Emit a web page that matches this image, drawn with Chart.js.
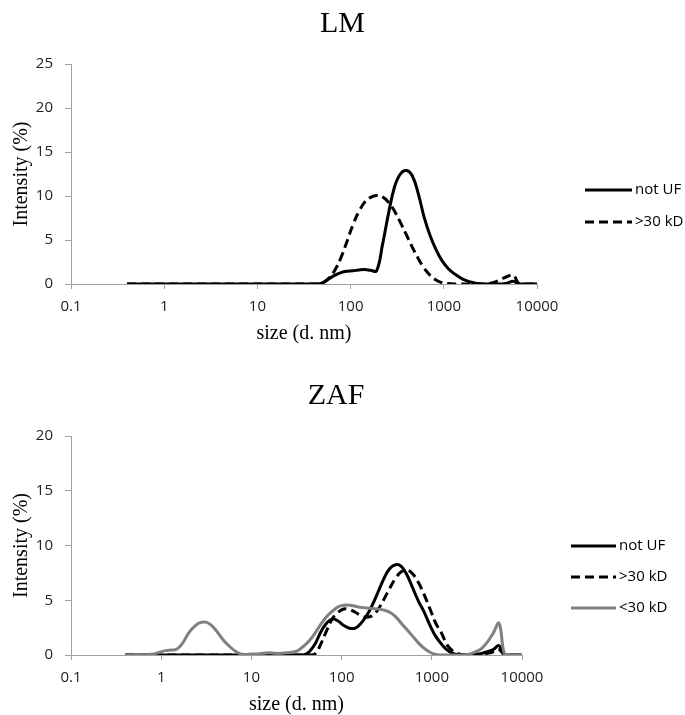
<!DOCTYPE html>
<html>
<head>
<meta charset="utf-8">
<script src="https://cdn.jsdelivr.net/npm/chart.js@4.4.0/dist/chart.umd.min.js"></script>
<style>
  html, body { margin: 0; padding: 0; background: #fff; width: 685px; height: 715px; overflow: hidden; }
  canvas { position: absolute; left: 0; }
  #lmChart { top: 0; }
  #zafChart { top: 372px; }
</style>
</head>
<body>
<canvas id="lmChart" width="685" height="360"></canvas>
<canvas id="zafChart" width="685" height="348"></canvas>
<script>
// size classes (d. nm)
const sizes = [0.4, 0.4632, 0.5365, 0.6213, 0.7195, 0.8332, 0.9649, 1.117, 1.294, 1.499,
  1.736, 2.01, 2.328, 2.696, 3.122, 3.615, 4.187, 4.849, 5.615, 6.503,
  7.531, 8.721, 10.1, 11.7, 13.54, 15.69, 18.17, 21.04, 24.36, 28.21,
  32.67, 37.84, 43.82, 50.75, 58.77, 68.06, 78.82, 91.28, 105.7, 122.4,
  141.8, 164.2, 190.1, 220.2, 255, 295.3, 342, 396.1, 458.7, 531.2,
  615.1, 712.4, 825, 955.4, 1106, 1281, 1484, 1718, 1990, 2305,
  2669, 3091, 3580, 4145, 4801, 5560, 6439, 7456, 8635, 10000];

const xTickValues = [0.1, 1, 10, 100, 1000, 10000];
const lmYTicks = [0, 5, 10, 15, 20, 25];
const zafYTicks = [0, 5, 10, 15, 20];

// LM
const lmNotUF = [0, 0, 0, 0, 0, 0, 0, 0, 0, 0,
  0, 0, 0, 0, 0, 0, 0, 0, 0, 0,
  0, 0, 0, 0, 0, 0, 0, 0, 0, 0,
  0, 0, 0, 0.15, 0.6, 1.0, 1.3, 1.45, 1.5, 1.6,
  1.65, 1.55, 1.5, 4.5, 8.0, 11.0, 12.5, 12.9, 12.3, 10.3,
  7.6, 5.5, 3.9, 2.65, 1.8, 1.2, 0.75, 0.4, 0.2, 0.05,
  0, 0, 0, 0, 0.1, 0.3, 0, 0, 0, 0];
const lmOver30 = [0, 0, 0, 0, 0, 0, 0, 0, 0, 0,
  0, 0, 0, 0, 0, 0, 0, 0, 0, 0,
  0, 0, 0, 0, 0, 0, 0, 0, 0, 0,
  0, 0, 0, 0.15, 0.7, 1.6, 3.0, 4.8, 6.7, 8.2,
  9.3, 9.85, 10.05, 9.9, 9.3, 8.3, 7.0, 5.6, 4.2, 2.9,
  1.8, 1.0, 0.45, 0.15, 0.05, 0, 0, 0, 0, 0,
  0, 0.05, 0.25, 0.55, 0.85, 1.0, 0, 0, 0, 0];

// ZAF
const zafNotUF = [0, 0, 0, 0, 0, 0, 0, 0, 0, 0,
  0, 0, 0, 0, 0, 0, 0, 0, 0, 0,
  0, 0, 0, 0, 0, 0, 0, 0, 0, 0,
  0, 0, 0.3, 1.0, 2.1, 2.9, 3.3, 3.1, 2.7, 2.45,
  2.45, 2.9, 3.6, 4.6, 5.8, 7.0, 7.9, 8.25, 8.1, 7.3,
  6.1, 4.9, 3.9, 2.7, 1.7, 1.0, 0.45, 0.15, 0.03, 0,
  0, 0.05, 0.15, 0.3, 0.5, 0.85, 0, 0, 0, 0];
const zafOver30 = [0, 0, 0, 0, 0, 0, 0, 0, 0, 0,
  0, 0, 0, 0, 0, 0, 0, 0, 0, 0,
  0, 0, 0, 0, 0, 0, 0, 0, 0, 0,
  0, 0, 0, 0.1, 1.0, 2.2, 3.3, 3.9, 4.2, 4.15,
  3.9, 3.6, 3.45, 3.6, 4.2, 5.1, 6.1, 7.0, 7.6, 7.75,
  7.4, 6.6, 5.5, 4.2, 2.9, 2.0, 0.9, 0.35, 0.1, 0,
  0, 0, 0.05, 0.15, 0.3, 0.5, 0, 0, 0, 0];
const zafUnder30 = [0, 0, 0, 0.02, 0.05, 0.1, 0.25, 0.4, 0.45, 0.55,
  1.1, 2.0, 2.6, 2.95, 3.0, 2.7, 2.1, 1.4, 0.85, 0.4,
  0.1, 0.05, 0.1, 0.1, 0.15, 0.2, 0.15, 0.15, 0.2, 0.25,
  0.4, 0.8, 1.3, 2.0, 2.8, 3.5, 4.0, 4.4, 4.55, 4.55,
  4.45, 4.35, 4.3, 4.25, 4.2, 4.1, 3.9, 3.5, 2.9, 2.3,
  1.7, 1.1, 0.6, 0.25, 0.05, 0, 0, 0, 0, 0.02,
  0.1, 0.3, 0.6, 1.2, 2.0, 2.9, 0, 0, 0, 0];

Chart.defaults.font.family = '"Open Sans", sans-serif';
Chart.defaults.color = '#222';

// legend drawn at the right, line sample + label
const sideLegend = {
  id: 'sideLegend',
  afterDraw(chart, args, o) {
    const ctx = chart.ctx;
    ctx.save();
    chart.data.datasets.forEach((ds, i) => {
      const y = o.y + i * o.gap;
      ctx.beginPath();
      ctx.lineWidth = ds.borderWidth;
      ctx.strokeStyle = ds.borderColor;
      ctx.setLineDash(ds.borderDash || []);
      ctx.moveTo(o.x, y);
      ctx.lineTo(o.x + o.len, y);
      ctx.stroke();
      ctx.setLineDash([]);
      ctx.fillStyle = '#000';
      ctx.font = '15px "Open Sans"';
      ctx.textBaseline = 'middle';
      ctx.fillText(ds.label, o.x + o.len + 3, y);
    });
    ctx.restore();
  }
};

function series(label, values, color, dash, order) {
  return {
    label: label,
    data: sizes.map((s, i) => ({ x: s, y: values[i] })),
    borderColor: color,
    borderWidth: 3,
    borderDash: dash,
    pointRadius: 0,
    tension: 0.4,
    fill: false,
    order: order,
  };
}

function makeChart(id, title, datasets, yTicks, cfg) {
  const ctx = document.getElementById(id).getContext("2d");
  return new Chart(ctx, {
    type: "line",
    data: { datasets: datasets },
    plugins: [sideLegend],
    options: {
      responsive: false,
      animation: false,
      events: [],
      layout: { padding: { left: 0, right: cfg.padRight, top: 0, bottom: 0 } },
      plugins: {
        legend: { display: false },
        tooltip: { enabled: false },
        title: {
          display: true,
          text: title,
          color: '#000',
          font: { family: '"Liberation Serif", serif', size: 30, weight: 'normal' },
          padding: { top: 6, bottom: 22 },
        },
        sideLegend: cfg.legend,
      },
      scales: {
        x: {
          type: 'logarithmic',
          min: xTickValues[0],
          max: xTickValues[xTickValues.length - 1],
          afterBuildTicks: (s) => { s.ticks = xTickValues.map((v) => ({ value: v })); },
          afterFit: (s) => { s.height = cfg.xHeight; },
          ticks: {
            callback: (v) => String(v),
            font: { size: 15 },
            padding: 9,
            maxRotation: 0,
            autoSkip: false,
          },
          grid: { drawOnChartArea: false, tickLength: 5, color: '#a0a0a0' },
          border: { color: '#a0a0a0' },
          title: {
            display: true,
            text: 'size (d. nm)',
            color: '#000',
            font: { family: '"Liberation Serif", serif', size: 20 },
            padding: { top: 0, bottom: cfg.xTitlePad },
          },
        },
        y: {
          min: yTicks[0],
          max: yTicks[yTicks.length - 1],
          afterBuildTicks: (s) => { s.ticks = yTicks.map((v) => ({ value: v })); },
          afterFit: (s) => { s.width = 71; },
          ticks: { font: { size: 15 }, padding: 12 },
          grid: { drawOnChartArea: false, tickLength: 6, color: '#a0a0a0' },
          border: { color: '#a0a0a0' },
          title: {
            display: true,
            text: 'Intensity (%)',
            color: '#000',
            font: { family: '"Liberation Serif", serif', size: 20 },
            padding: { top: 10, bottom: 0 },
          },
        },
        // empty space on the right for the legend
        spacer: {
          type: 'linear',
          position: 'right',
          display: true,
          afterFit: (s) => { s.width = cfg.spacer; },
          ticks: { display: false },
          grid: { display: false },
          border: { display: false },
        },
      },
    },
  });
}

makeChart("lmChart", "LM", [
  series("not UF", lmNotUF, "#000", [], 2),
  series(">30 kD", lmOver30, "#000", [9, 5], 1),
], lmYTicks, {
  padRight: 0, spacer: 148, xHeight: 76, xTitlePad: 14,
  legend: { x: 585, y: 190, gap: 32, len: 47 },
});

makeChart("zafChart", "ZAF", [
  series("not UF", zafNotUF, "#000", [], 3),
  series(">30 kD", zafOver30, "#000", [9, 5], 2),
  series("<30 kD", zafUnder30, "#808080", [], 1),
], zafYTicks, {
  padRight: 13, spacer: 150, xHeight: 65, xTitlePad: 3,
  legend: { x: 571, y: 174, gap: 31, len: 45 },
});
</script>
</body>
</html>
